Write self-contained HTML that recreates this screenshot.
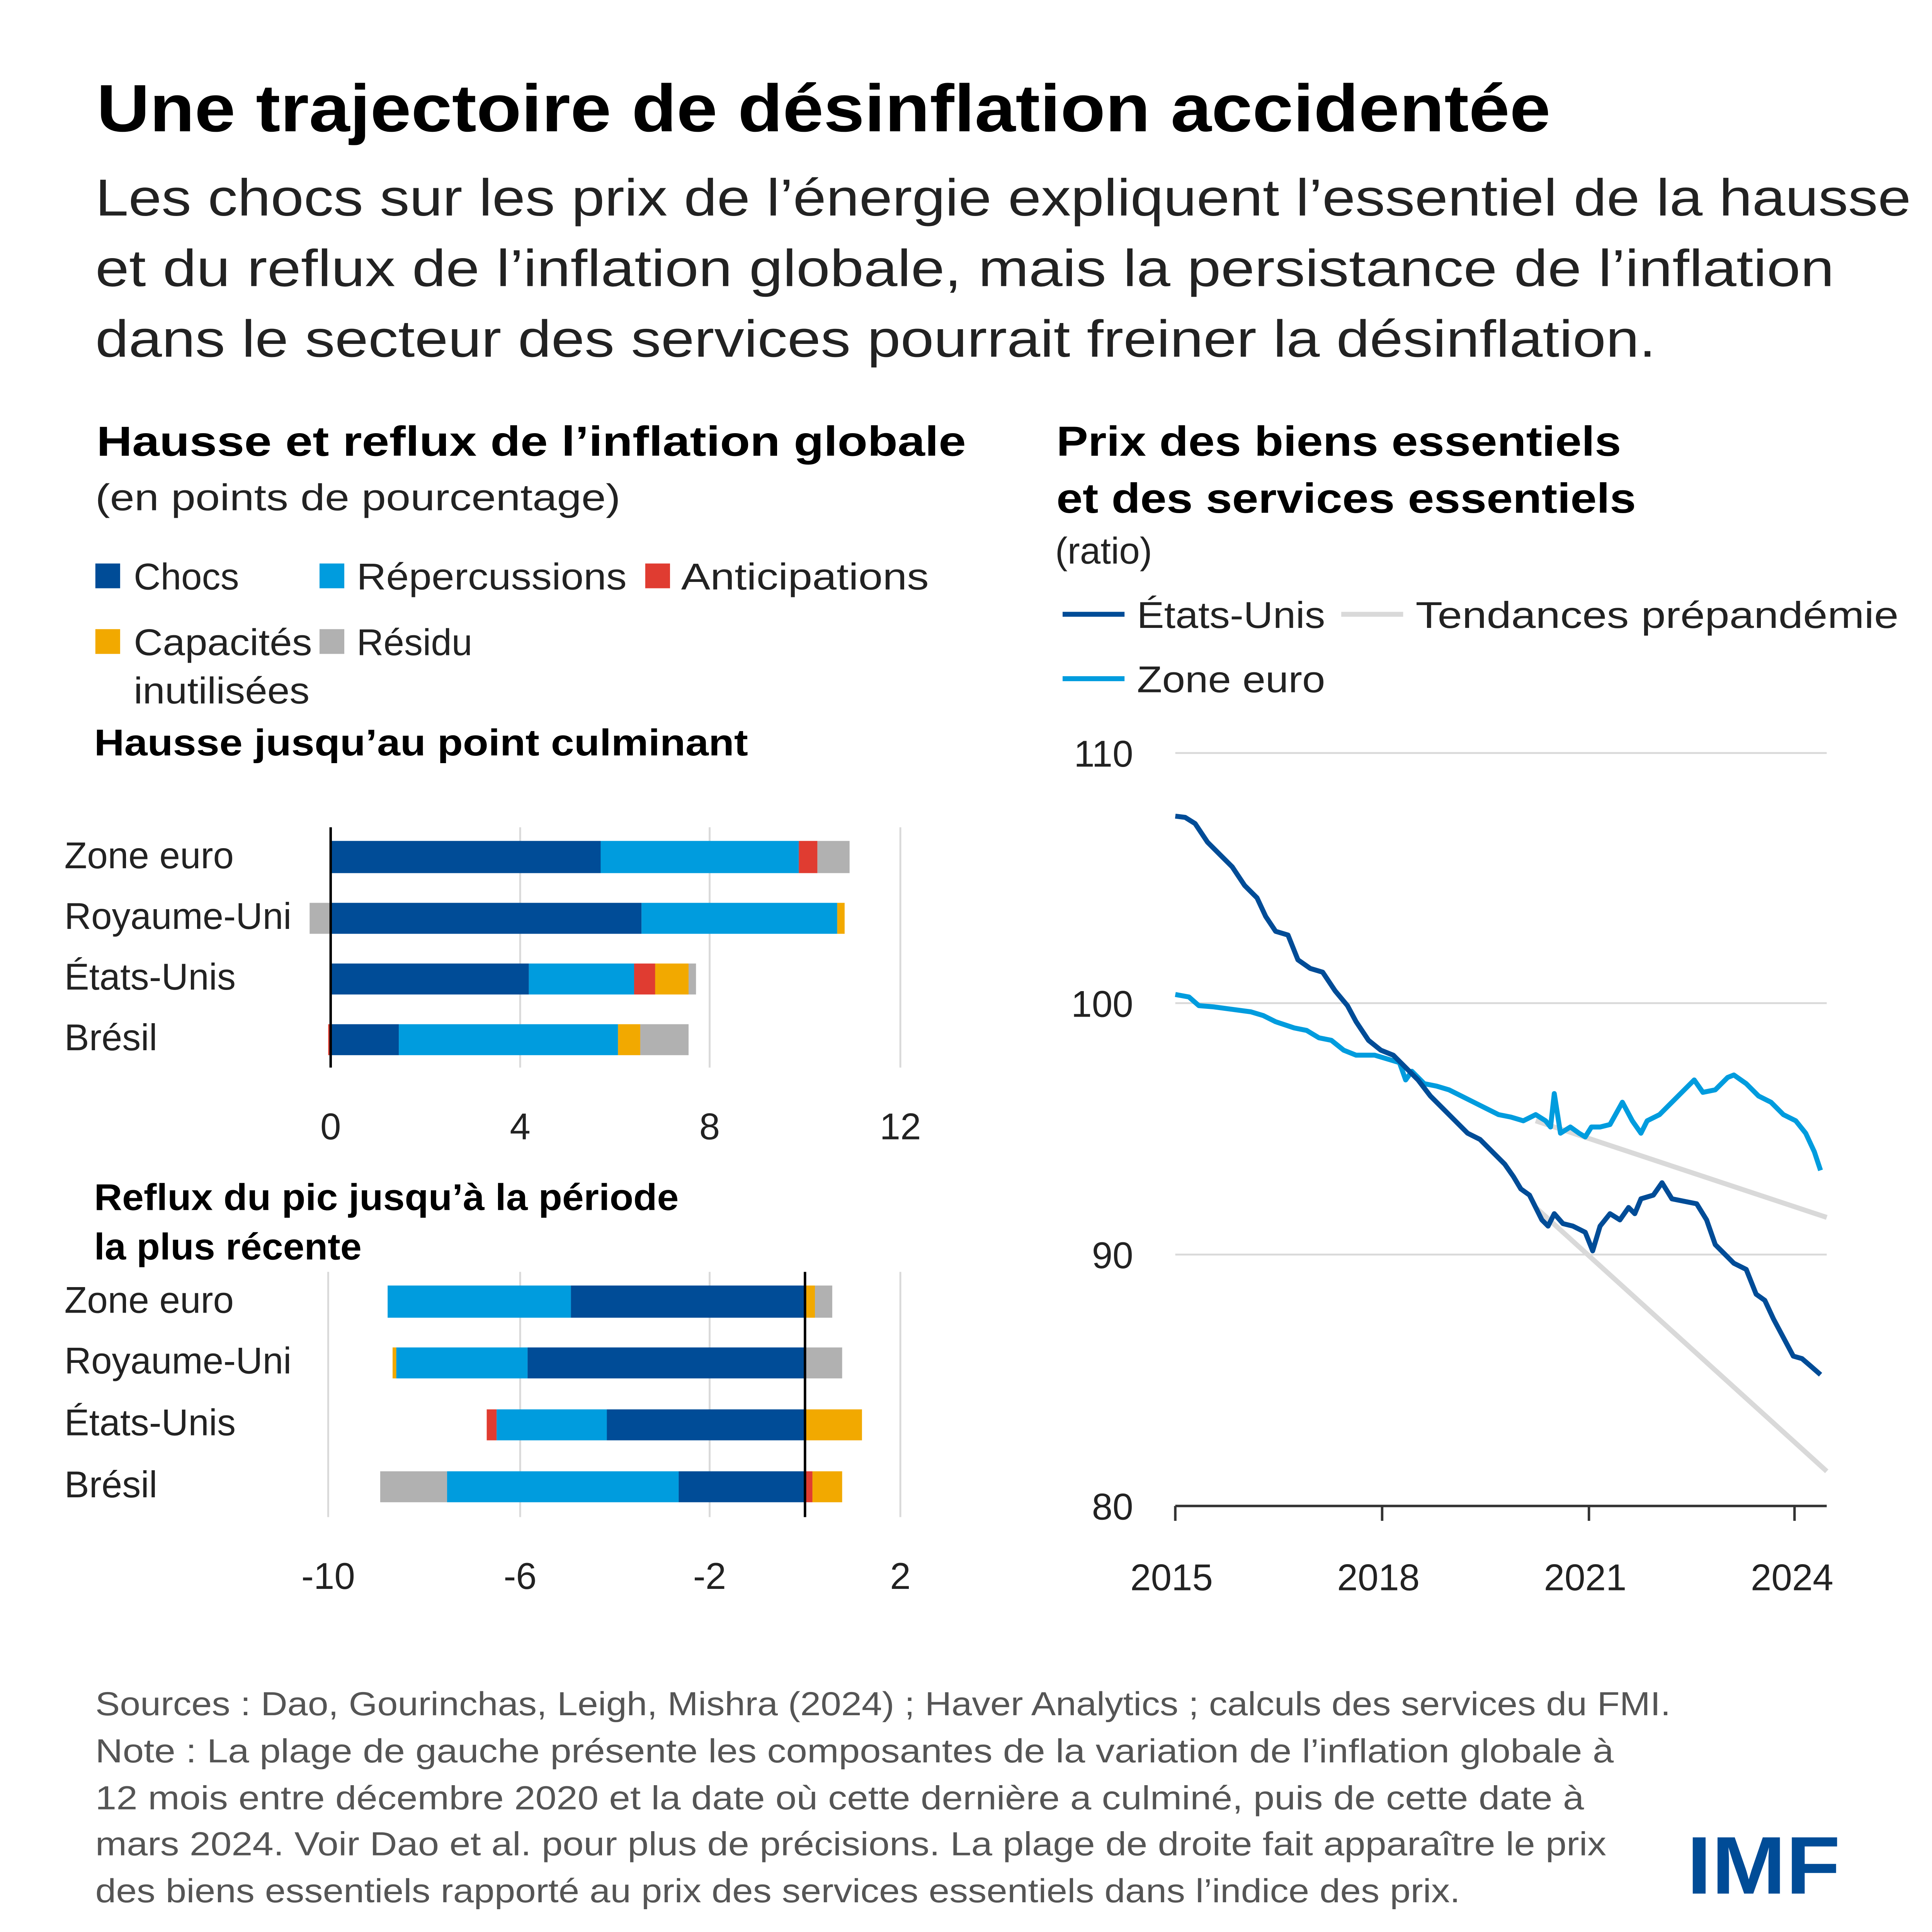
<!DOCTYPE html>
<html><head><meta charset="utf-8"><style>
html,body{margin:0;padding:0;background:#fff;width:100%;height:100%;overflow:hidden}
svg{display:block;width:100vw;height:100vh}
text{font-family:"Liberation Sans",sans-serif}
</style></head><body>
<svg viewBox="0 0 1560 1560" preserveAspectRatio="xMidYMid meet" xmlns="http://www.w3.org/2000/svg">
<rect width="1560" height="1560" fill="#fff"/>
<text x="78" y="106" font-size="54" font-weight="bold" fill="#000" textLength="1174" lengthAdjust="spacingAndGlyphs">Une trajectoire de désinflation accidentée</text>
<g font-size="42" fill="#222">
<text x="77" y="174" textLength="1466" lengthAdjust="spacingAndGlyphs">Les chocs sur les prix de l’énergie expliquent l’essentiel de la hausse</text>
<text x="77" y="231" textLength="1404" lengthAdjust="spacingAndGlyphs">et du reflux de l’inflation globale, mais la persistance de l’inflation</text>
<text x="77" y="288" textLength="1260" lengthAdjust="spacingAndGlyphs">dans le secteur des services pourrait freiner la désinflation.</text>
</g>
<text x="78" y="368" font-size="34" font-weight="bold" textLength="702" lengthAdjust="spacingAndGlyphs">Hausse et reflux de l’inflation globale</text>
<text x="77" y="412" font-size="30" fill="#222" textLength="424" lengthAdjust="spacingAndGlyphs">(en points de pourcentage)</text>
<g font-size="30" fill="#222">
<rect x="77" y="455" width="20" height="20" fill="#004C97"/><text x="108" y="476">Chocs</text>
<rect x="258" y="455" width="20" height="20" fill="#009CDE"/><text x="288" y="476" textLength="218" lengthAdjust="spacingAndGlyphs">Répercussions</text>
<rect x="521" y="455" width="20" height="20" fill="#E03C31"/><text x="550" y="476" textLength="200" lengthAdjust="spacingAndGlyphs">Anticipations</text>
<rect x="77" y="508" width="20" height="20" fill="#F2A900"/><text x="108" y="529" textLength="144" lengthAdjust="spacingAndGlyphs">Capacités</text>
<text x="108" y="568" textLength="142" lengthAdjust="spacingAndGlyphs">inutilisées</text>
<rect x="258" y="508" width="20" height="20" fill="#B1B1B1"/><text x="288" y="529">Résidu</text>
</g>
<text x="76" y="610" font-size="30" font-weight="bold" textLength="528" lengthAdjust="spacingAndGlyphs">Hausse jusqu’au point culminant</text>
<g stroke="#d9d9d9" stroke-width="1.5">
<line x1="420" y1="668" x2="420" y2="862"/><line x1="573" y1="668" x2="573" y2="862"/><line x1="727" y1="668" x2="727" y2="862"/>
</g>
<g>
<rect x="267" y="679" width="218" height="26" fill="#004C97"/><rect x="485" y="679" width="160" height="26" fill="#009CDE"/><rect x="645" y="679" width="15" height="26" fill="#E03C31"/><rect x="660" y="679" width="26" height="26" fill="#B1B1B1"/>
<rect x="250" y="729" width="17" height="25" fill="#B1B1B1"/><rect x="267" y="729" width="251" height="25" fill="#004C97"/><rect x="518" y="729" width="158" height="25" fill="#009CDE"/><rect x="676" y="729" width="6" height="25" fill="#F2A900"/>
<rect x="267" y="778" width="160" height="25" fill="#004C97"/><rect x="427" y="778" width="85" height="25" fill="#009CDE"/><rect x="512" y="778" width="17" height="25" fill="#E03C31"/><rect x="529" y="778" width="27" height="25" fill="#F2A900"/><rect x="556" y="778" width="6" height="25" fill="#B1B1B1"/>
<rect x="265" y="827" width="2" height="25" fill="#E03C31"/><rect x="267" y="827" width="55" height="25" fill="#004C97"/><rect x="322" y="827" width="177" height="25" fill="#009CDE"/><rect x="499" y="827" width="18" height="25" fill="#F2A900"/><rect x="517" y="827" width="39" height="25" fill="#B1B1B1"/>
</g>
<line x1="267" y1="668" x2="267" y2="862" stroke="#000" stroke-width="2"/>
<g font-size="30" fill="#222">
<text x="52" y="701">Zone euro</text><text x="52" y="750">Royaume-Uni</text><text x="52" y="799">États-Unis</text><text x="52" y="848">Brésil</text>
</g>
<g font-size="30" fill="#222" text-anchor="middle">
<text x="267" y="920">0</text><text x="420" y="920">4</text><text x="573" y="920">8</text><text x="727" y="920">12</text>
</g>
<text x="76" y="977" font-size="30" font-weight="bold" textLength="472" lengthAdjust="spacingAndGlyphs">Reflux du pic jusqu’à la période</text>
<text x="76" y="1017" font-size="30" font-weight="bold" textLength="216" lengthAdjust="spacingAndGlyphs">la plus récente</text>
<g stroke="#d9d9d9" stroke-width="1.5">
<line x1="265" y1="1027" x2="265" y2="1225"/><line x1="420" y1="1027" x2="420" y2="1225"/><line x1="573" y1="1027" x2="573" y2="1225"/><line x1="727" y1="1027" x2="727" y2="1225"/>
</g>
<g>
<rect x="313" y="1038" width="148" height="26" fill="#009CDE"/><rect x="461" y="1038" width="189" height="26" fill="#004C97"/><rect x="650" y="1038" width="8" height="26" fill="#F2A900"/><rect x="658" y="1038" width="14" height="26" fill="#B1B1B1"/>
<rect x="317" y="1088" width="3" height="25" fill="#F2A900"/><rect x="320" y="1088" width="106" height="25" fill="#009CDE"/><rect x="426" y="1088" width="224" height="25" fill="#004C97"/><rect x="650" y="1088" width="30" height="25" fill="#B1B1B1"/>
<rect x="393" y="1138" width="8" height="25" fill="#E03C31"/><rect x="401" y="1138" width="89" height="25" fill="#009CDE"/><rect x="490" y="1138" width="160" height="25" fill="#004C97"/><rect x="650" y="1138" width="46" height="25" fill="#F2A900"/>
<rect x="307" y="1188" width="54" height="25" fill="#B1B1B1"/><rect x="361" y="1188" width="187" height="25" fill="#009CDE"/><rect x="548" y="1188" width="102" height="25" fill="#004C97"/><rect x="650" y="1188" width="6" height="25" fill="#E03C31"/><rect x="656" y="1188" width="24" height="25" fill="#F2A900"/>
</g>
<line x1="650" y1="1027" x2="650" y2="1225" stroke="#000" stroke-width="2"/>
<g font-size="30" fill="#222">
<text x="52" y="1060">Zone euro</text><text x="52" y="1109">Royaume-Uni</text><text x="52" y="1159">États-Unis</text><text x="52" y="1209">Brésil</text>
</g>
<g font-size="30" fill="#222" text-anchor="middle">
<text x="265" y="1283">-10</text><text x="420" y="1283">-6</text><text x="573" y="1283">-2</text><text x="727" y="1283">2</text>
</g>
<text x="853" y="368" font-size="34" font-weight="bold" textLength="456" lengthAdjust="spacingAndGlyphs">Prix des biens essentiels</text>
<text x="853" y="414" font-size="34" font-weight="bold" textLength="468" lengthAdjust="spacingAndGlyphs">et des services essentiels</text>
<text x="852" y="455" font-size="30" fill="#222">(ratio)</text>
<g font-size="30" fill="#222">
<line x1="858" y1="496" x2="908" y2="496" stroke="#004C97" stroke-width="4"/><text x="918" y="507" textLength="152" lengthAdjust="spacingAndGlyphs">États-Unis</text>
<line x1="1083" y1="496" x2="1133" y2="496" stroke="#d9d9d9" stroke-width="4"/><text x="1143" y="507" textLength="390" lengthAdjust="spacingAndGlyphs">Tendances prépandémie</text>
<line x1="858" y1="548" x2="908" y2="548" stroke="#009CDE" stroke-width="4"/><text x="918" y="559" textLength="152" lengthAdjust="spacingAndGlyphs">Zone euro</text>
</g>
<g stroke="#d9d9d9" stroke-width="1.5">
<line x1="949" y1="608" x2="1475" y2="608"/><line x1="949" y1="810" x2="1475" y2="810"/><line x1="949" y1="1013" x2="1475" y2="1013"/>
</g>
<g font-size="30" fill="#222" text-anchor="end">
<text x="915" y="619">110</text><text x="915" y="821">100</text><text x="915" y="1024">90</text><text x="915" y="1227">80</text>
</g>
<line x1="1240" y1="905" x2="1475" y2="983" stroke="#d9d9d9" stroke-width="4"/>
<line x1="1240" y1="975" x2="1475" y2="1188" stroke="#d9d9d9" stroke-width="4"/>
<polyline fill="none" stroke="#009CDE" stroke-width="4" stroke-linejoin="round" points="949,803 960,805 968,812 980,813 995,815 1010,817 1020,820 1030,825 1045,830 1055,832 1065,838 1075,840 1085,848 1095,852 1110,852 1120,855 1130,858 1135,872 1140,865 1150,875 1160,877 1170,880 1180,885 1190,890 1200,895 1210,900 1220,902 1230,905 1240,900 1248,905 1252,910 1255,883 1260,915 1268,910 1275,915 1280,918 1285,910 1292,910 1300,908 1310,890 1318,905 1325,915 1330,905 1340,900 1350,890 1360,880 1368,872 1375,882 1385,880 1395,870 1400,868 1410,875 1420,885 1430,890 1440,900 1450,905 1458,915 1465,930 1470,945"/>
<polyline fill="none" stroke="#004C97" stroke-width="4" stroke-linejoin="round" points="949,659 957,660 965,665 975,680 985,690 995,700 1005,715 1015,725 1022,740 1030,752 1040,755 1048,775 1058,782 1068,785 1078,800 1088,812 1095,825 1105,840 1115,848 1125,852 1135,862 1145,872 1155,885 1165,895 1175,905 1185,915 1195,920 1205,930 1215,940 1222,950 1228,960 1235,965 1245,985 1250,990 1255,980 1262,988 1270,990 1280,995 1286,1010 1292,990 1300,980 1308,985 1315,975 1320,980 1325,968 1335,965 1342,955 1350,968 1360,970 1370,972 1378,985 1385,1005 1392,1012 1400,1020 1410,1025 1418,1045 1425,1050 1432,1065 1440,1080 1448,1095 1455,1097 1462,1103 1470,1110"/>
<line x1="949" y1="1216" x2="1475" y2="1216" stroke="#333" stroke-width="2"/>
<g stroke="#333" stroke-width="2">
<line x1="949" y1="1216" x2="949" y2="1228"/><line x1="1116" y1="1216" x2="1116" y2="1228"/><line x1="1283" y1="1216" x2="1283" y2="1228"/><line x1="1449" y1="1216" x2="1449" y2="1228"/>
</g>
<g font-size="30" fill="#222" text-anchor="middle">
<text x="946" y="1284">2015</text><text x="1113" y="1284">2018</text><text x="1280" y="1284">2021</text><text x="1447" y="1284">2024</text>
</g>
<g font-size="27" fill="#555">
<text x="77" y="1385" textLength="1272" lengthAdjust="spacingAndGlyphs">Sources : Dao, Gourinchas, Leigh, Mishra (2024) ; Haver Analytics ; calculs des services du FMI.</text>
<text x="77" y="1423" textLength="1226" lengthAdjust="spacingAndGlyphs">Note : La plage de gauche présente les composantes de la variation de l’inflation globale à</text>
<text x="77" y="1461" textLength="1202" lengthAdjust="spacingAndGlyphs">12 mois entre décembre 2020 et la date où cette dernière a culminé, puis de cette date à</text>
<text x="77" y="1498" textLength="1220" lengthAdjust="spacingAndGlyphs">mars 2024. Voir Dao et al. pour plus de précisions. La plage de droite fait apparaître le prix</text>
<text x="77" y="1536" textLength="1102" lengthAdjust="spacingAndGlyphs">des biens essentiels rapporté au prix des services essentiels dans l’indice des prix.</text>
</g>
<text x="1362" y="1529" font-size="66" font-weight="bold" fill="#004C97" textLength="124" lengthAdjust="spacingAndGlyphs">IMF</text>
</svg>
</body></html>
